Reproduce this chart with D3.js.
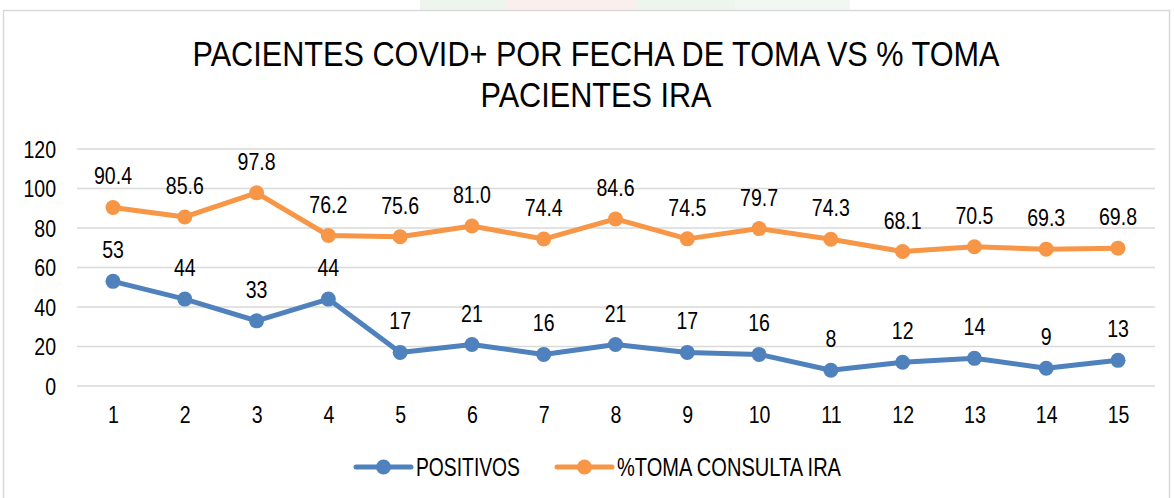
<!DOCTYPE html>
<html>
<head>
<meta charset="utf-8">
<title>Pacientes COVID+</title>
<script src="https://cdnjs.cloudflare.com/ajax/libs/d3/7.8.5/d3.min.js"></script>
<style>
  body { margin: 0; background: #fff; }
  svg text { font-family: "Liberation Sans Narrow", "Arial Narrow", "Liberation Sans", sans-serif; fill: #000; }
</style>
</head>
<body>
<svg id="chart" width="1174" height="498"></svg>
<script>
// data
var dias = ["1","2","3","4","5","6","7","8","9","10","11","12","13","14","15"];
var positivos = [53, 44, 33, 44, 17, 21, 16, 21, 17, 16, 8, 12, 14, 9, 13];
var tomaIra = [90.4, 85.6, 97.8, 76.2, 75.6, 81.0, 74.4, 84.6, 74.5, 79.7, 74.3, 68.1, 70.5, 69.3, 69.8];
var yTicks = [0, 20, 40, 60, 80, 100, 120];

var series = [
  { name: "POSITIVOS", values: positivos, color: "#4F81BD", fmt: d3.format("d") },
  { name: "%TOMA CONSULTA IRA", values: tomaIra, color: "#F79646", fmt: d3.format(".1f") }
];

// no narrow font installed, so squeeze the text horizontally
var squeeze = "scale(0.85,1)";

var svg = d3.select("#chart");

// faint watermark strip at the top
svg.append("rect").attr("x", 420).attr("y", 0).attr("width", 85).attr("height", 10).attr("fill", "#eef5ef");
svg.append("rect").attr("x", 505).attr("y", 0).attr("width", 130).attr("height", 10).attr("fill", "#fbeeee");
svg.append("rect").attr("x", 635).attr("y", 0).attr("width", 100).attr("height", 10).attr("fill", "#eef5ef");
svg.append("rect").attr("x", 735).attr("y", 0).attr("width", 115).attr("height", 10).attr("fill", "#f3f7f3");

// chart border
svg.append("rect")
  .attr("x", 3.5).attr("y", 10.5)
  .attr("width", 1166).attr("height", 500)
  .attr("fill", "none").attr("stroke", "#d9d9d9").attr("stroke-width", 1.5);

// title
var titleLines = ["PACIENTES COVID+ POR FECHA DE TOMA VS % TOMA", "PACIENTES IRA"];
svg.append("g").selectAll("text").data(titleLines).join("text")
  .attr("transform", function(d, i) { return "translate(596," + (66 + i * 41) + ") scale(0.876,1)"; })
  .attr("text-anchor", "middle")
  .style("font-size", "35px")
  .text(function(d) { return d; });

var x = d3.scalePoint().domain(dias).range([113, 1118]);
var y = d3.scaleLinear().domain([0, 120]).range([386, 149]);

// grid lines
svg.append("g").selectAll("line").data(yTicks).join("line")
  .attr("x1", 77).attr("x2", 1155)
  .attr("y1", function(d) { return y(d); })
  .attr("y2", function(d) { return y(d); })
  .attr("stroke", "#d9d9d9").attr("stroke-width", 1.5);

// y axis labels
var yAxis = svg.append("g").attr("transform", "translate(62,0)")
  .call(d3.axisLeft(y).tickValues(yTicks).tickSize(0).tickPadding(7));
yAxis.select(".domain").remove();
yAxis.selectAll("text").style("font-size", "23px").attr("dy", "0.35em").attr("transform", squeeze);

// x axis labels
var xAxis = svg.append("g").attr("transform", "translate(0,386)")
  .call(d3.axisBottom(x).tickSize(0));
xAxis.select(".domain").remove();
xAxis.selectAll("text").style("font-size", "23px").attr("y", 37).attr("dy", 0).attr("transform", squeeze);

var line = d3.line()
  .x(function(d, i) { return x(dias[i]); })
  .y(function(d) { return y(d); });

series.forEach(function(s) {
  var g = svg.append("g");
  g.append("path").datum(s.values)
    .attr("d", line)
    .attr("fill", "none")
    .attr("stroke", s.color)
    .attr("stroke-width", 5)
    .attr("stroke-linejoin", "round")
    .attr("stroke-linecap", "round");
  g.selectAll("circle").data(s.values).join("circle")
    .attr("cx", function(d, i) { return x(dias[i]); })
    .attr("cy", function(d) { return y(d); })
    .attr("r", 7.5)
    .attr("fill", s.color);
  g.selectAll("text").data(s.values).join("text")
    .attr("transform", function(d, i) {
      return "translate(" + x(dias[i]) + "," + (y(d) - 23) + ") " + squeeze;
    })
    .attr("text-anchor", "middle")
    .style("font-size", "23px")
    .text(function(d) { return s.fmt(d); });
});

// legend
var legendX = [356, 557];
var legendW = [104, 224];
var legend = svg.append("g").attr("transform", "translate(0,467)");
series.forEach(function(s, i) {
  var lg = legend.append("g").attr("transform", "translate(" + legendX[i] + ",0)");
  lg.append("line").attr("x1", 0).attr("x2", 55).attr("y1", 0).attr("y2", 0)
    .attr("stroke", s.color).attr("stroke-width", 5).attr("stroke-linecap", "round");
  lg.append("circle").attr("cx", 27.5).attr("cy", 0).attr("r", 7.5).attr("fill", s.color);
  lg.append("text").attr("x", 60).attr("y", 9)
    .attr("textLength", legendW[i]).attr("lengthAdjust", "spacingAndGlyphs")
    .style("font-size", "25px").text(s.name);
});
</script>
</body>
</html>
